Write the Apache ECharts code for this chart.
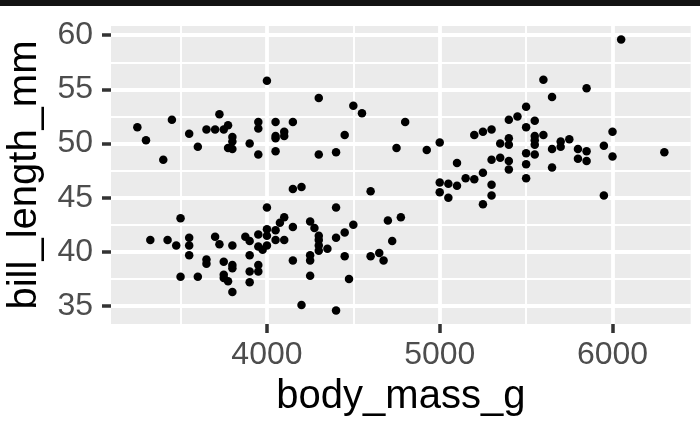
<!DOCTYPE html>
<html>
<head>
<meta charset="utf-8">
<script src="https://cdn.jsdelivr.net/npm/echarts@6/dist/echarts.min.js"></script>
<style>
html,body{margin:0;padding:0;background:#fff;}
#chart{width:700px;height:432px;}
</style>
</head>
<body>
<div id="chart"></div>
<script>
// body_mass_g
var bodyMass = [
3250,3300,3400,3450,3550,3600,3650,3700,3725,3750,3775,3800,3800,3775,3800,3900,3950,3950,3950,4000,
4050,4050,4050,4050,4100,4100,4150,4300,4300,4400,4450,4500,4550,4750,4800,4925,5000,6050,5600,5850,
5650,5500,5450,5400,5550,5500,5200,5250,5300,5400,5350,5400,5550,5550,5550,5600,5700,5700,5750,5650,
5800,5850,5950,6000,6000,6300,5500,5550,5100,5300,5350,5400,5500,5650,5800,5850,5400,5250,5150,5200,
5500,5000,5050,5100,5300,5000,5050,5300,5250,5950,4150,4200,4600,4000,4400,3500,4100,4075,4250,4275,
4150,4500,4775,4700,4450,4400,4300,4300,4300,4300,4350,4725,3325,3425,3475,3550,3550,3550,3700,3725,
3800,3875,3900,3950,3950,4000,4000,4050,4050,4100,4000,3975,3900,3650,3650,3750,3800,3800,3950,3950,
3900,4150,4250,4250,4450,4600,4650,4675,3500,3600,3750,3750,3775,3900,3800,4250,4475,4200,4400
];
// bill_length_mm
var billLength = [
51.5,50.3,48.5,52.2,50.9,49.7,51.3,51.3,52.7,51.3,51.7,50.6,50.2,49.6,49.5,50.0,52.0,51.4,49.0,55.8,
52.0,50.7,50.5,49.3,51.1,50.7,52.0,54.2,49.0,49.2,50.8,53.5,52.8,49.6,52.0,49.4,50.1,59.6,55.9,55.1,
54.3,53.4,52.5,52.2,52.1,51.5,50.8,51.1,51.3,50.5,50.0,49.9,50.7,50.3,49.9,50.8,50.2,49.7,50.4,49.5,
49.5,49.3,49.8,51.1,48.8,49.2,49.1,49.0,48.2,48.5,48.7,48.4,48.1,47.8,48.6,48.4,47.6,47.3,46.8,46.7,
46.8,46.4,46.3,46.1,46.2,45.5,45.0,45.2,44.4,45.2,45.8,46.0,45.6,44.1,44.1,43.1,43.2,42.7,42.8,42.2,
42.3,42.5,43.2,42.9,41.8,41.3,41.5,41.1,40.6,40.1,40.3,41.0,41.1,41.1,40.6,41.3,40.6,39.7,41.4,40.7,
40.6,41.4,41.0,41.6,40.5,42.1,41.5,42.0,41.1,41.1,40.6,40.2,39.7,39.3,38.9,39.1,38.8,38.5,38.8,38.2,
38.2,39.2,39.7,39.2,39.6,39.6,39.9,39.2,37.7,37.7,37.9,37.6,37.3,37.2,36.3,37.8,37.5,35.1,34.6
];
var xTicks = [4000, 5000, 6000];
var xMinorTicks = [3500, 4500, 5500];
var yTicks = [35, 40, 45, 50, 55, 60];
var yMinorTicks = [37.5, 42.5, 47.5, 52.5, 57.5];
var xTitle = 'body_mass_g';
var yTitle = 'bill_length_mm';

// ggplot-style expansion of 5% on each side
function expand(arr) {
  var lo = Math.min.apply(null, arr), hi = Math.max.apply(null, arr);
  var d = (hi - lo) * 0.05;
  return [lo - d, hi + d];
}
var xr = expand(bodyMass), yr = expand(billLength);

var points = bodyMass.map(function (m, i) { return [m, billLength[i]]; });

var FONT = 'Liberation Sans, Arial, Helvetica, sans-serif';
var chart = echarts.init(document.getElementById('chart'), null, {renderer: 'canvas'});

function axisBase(type, ticks, major) {
  return {
    type: 'value',
    min: type === 'x' ? xr[0] : yr[0],
    max: type === 'x' ? xr[1] : yr[1],
    z: major ? 2 : 1,
    axisLine: {show: false},
    axisTick: {
      show: major, customValues: ticks, length: 9,
      lineStyle: {color: '#333333', width: 3.5}
    },
    axisLabel: major ? {
      show: true, customValues: ticks, fontSize: 32, color: '#4D4D4D',
      fontFamily: FONT, margin: type === 'x' ? 15 : 18,
      formatter: function (v) { return String(v); }
    } : {show: false},
    splitLine: {show: true, lineStyle: {color: '#FFFFFF', width: major ? 3.8 : 1.9}},
    minorSplitLine: {show: false}
  };
}

var xMajor = axisBase('x', xTicks, true);
xMajor.name = xTitle;
xMajor.nameLocation = 'middle';
xMajor.nameGap = 53;
xMajor.nameTextStyle = {fontSize: 40, color: '#000000', fontFamily: FONT};
var xMinor = axisBase('x', xMinorTicks, false);

var yMajor = axisBase('y', yTicks, true);
yMajor.name = yTitle;
yMajor.nameLocation = 'middle';
yMajor.nameRotate = 90;
yMajor.nameGap = 66;
yMajor.nameTextStyle = {fontSize: 40, color: '#000000', fontFamily: FONT};
var yMinor = axisBase('y', yMinorTicks, false);

chart.setOption({
  animation: false,
  backgroundColor: '#FFFFFF',
  graphic: [{
    type: 'rect', left: 0, top: 0, z: 10,
    shape: {width: 700, height: 6},
    style: {fill: '#141414'}
  }],
  grid: {
    left: 111, right: 9.3, top: 26, bottom: 108,
    show: true, backgroundColor: '#EBEBEB', borderWidth: 0,
    containLabel: false, outerBoundsMode: 'none', z: 0
  },
  xAxis: [xMajor, xMinor],
  yAxis: [yMajor, yMinor],
  series: [{
    type: 'scatter',
    xAxisIndex: 0, yAxisIndex: 0,
    data: points,
    symbol: 'circle',
    symbolSize: 8.5,
    itemStyle: {color: '#000000', opacity: 1},
    emphasis: {disabled: true},
    z: 3
  }]
});
</script>
</body>
</html>
